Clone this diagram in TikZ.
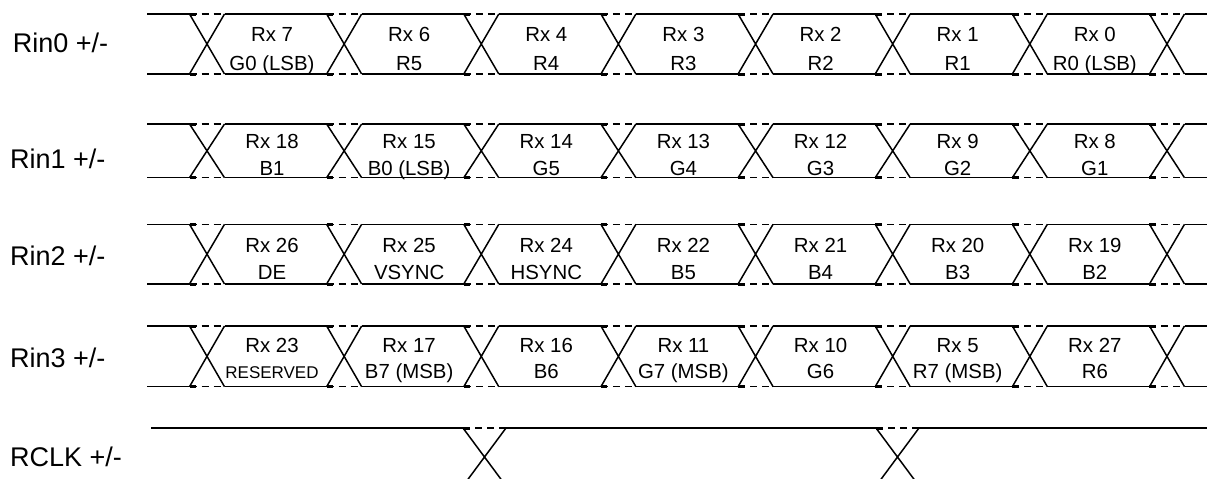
\documentclass[tikz,border=0pt]{standalone}
\usepackage{fontspec}
\setmainfont{Liberation Sans}
\newcommand{\rsvdfont}{\fontsize{17}{20}\selectfont}
\begin{document}
\begin{tikzpicture}[
    x=1pt, y=-1pt,
    wave/.style={draw, line width=1.5pt},
    gapline/.style={draw, line width=1.5pt, dash pattern=on 7pt off 5pt},
    gapmark/.style={draw, line width=3pt},
    signame/.style={font=\fontsize{27}{32}\selectfont, anchor=base west, inner sep=0pt},
    bitname/.style={font=\fontsize{20.4}{24}\selectfont, anchor=base, inner sep=0pt}
]
\useasboundingbox (0,0) rectangle (1207,479);
\clip (0,0) rectangle (1207,479);

% signal names
\node (rin0) [signame] at (12.7,52.5) {Rin0 +/-};
\node (rin1) [signame] at (10,168) {Rin1 +/-};
\node (rin2) [signame] at (10,265) {Rin2 +/-};
\node (rin3) [signame] at (10,367) {Rin3 +/-};
\node (rclk) [signame] at (10,466.5) {RCLK +/-};

% data lanes
\foreach \row/\top/\bot in {0/14/74, 1/124/177.7, 2/224.3/284, 3/326/386.7} {
  \draw[wave] (147,\top) -- (189.5,\top) (147,\bot) -- (189.5,\bot);
  \foreach \k in {0,...,7} {
    \pgfmathsetmacro{\c}{207+137.14*\k}
    \draw[wave] (\c-17.5,\top) -- (\c+17.5,\bot) (\c-17.5,\bot) -- (\c+17.5,\top);
    \draw[gapline] (\c-17.5,\top) -- (\c+17.5,\top) (\c-17.5,\bot) -- (\c+17.5,\bot);
    \draw[gapmark] (\c-17.5,\top) -- (\c-11,\top) (\c-17.5,\bot) -- (\c-11,\bot);
  }
  \foreach \k in {0,...,6} {
    \pgfmathsetmacro{\c}{207+137.14*\k}
    \draw[wave] (\c+17.5,\top) -- (\c+119.64,\top) (\c+17.5,\bot) -- (\c+119.64,\bot);
  }
  \draw[wave] (1184.5,\top) -- (1207,\top) (1184.5,\bot) -- (1207,\bot);
}

% bit names
\foreach \k/\bita/\bitb in {0/Rx 7/G0 (LSB), 1/Rx 6/R5, 2/Rx 4/R4, 3/Rx 3/R3,
    4/Rx 2/R2, 5/Rx 1/R1, 6/Rx 0/R0 (LSB)} {
  \node (bit0\k a) [bitname] at (272+137.14*\k,41.7) {\bita};
  \node (bit0\k b) [bitname] at (272+137.14*\k,70) {\bitb};
}
\foreach \k/\bita/\bitb in {0/Rx 18/B1, 1/Rx 15/B0 (LSB), 2/Rx 14/G5, 3/Rx 13/G4,
    4/Rx 12/G3, 5/Rx 9/G2, 6/Rx 8/G1} {
  \node (bit1\k a) [bitname] at (272+137.14*\k,148.3) {\bita};
  \node (bit1\k b) [bitname] at (272+137.14*\k,175.7) {\bitb};
}
\foreach \k/\bita/\bitb in {0/Rx 26/DE, 1/Rx 25/VSYNC, 2/Rx 24/HSYNC, 3/Rx 22/B5,
    4/Rx 21/B4, 5/Rx 20/B3, 6/Rx 19/B2} {
  \node (bit2\k a) [bitname] at (272+137.14*\k,252) {\bita};
  \node (bit2\k b) [bitname] at (272+137.14*\k,279.5) {\bitb};
}
\foreach \k/\bita/\bitb in {0/Rx 23/{\rsvdfont RESERVED}, 1/Rx 17/B7 (MSB), 2/Rx 16/B6,
    3/Rx 11/G7 (MSB), 4/Rx 10/G6, 5/Rx 5/R7 (MSB), 6/Rx 27/R6} {
  \node (bit3\k a) [bitname] at (272+137.14*\k,352.3) {\bita};
  \node (bit3\k b) [bitname] at (272+137.14*\k,378) {\bitb};
}

% clock lane
\draw[wave] (151,428) -- (463,428) (506,428) -- (876,428) (919,428) -- (1207,428);
\draw[gapline] (463,428) -- (506,428) (876,428) -- (919,428);
\draw[gapmark] (463,428) -- (470,428) (876,428) -- (883,428);
\draw[wave] (463,428) -- (506,486) (506,428) -- (463,486);
\draw[wave] (876,428) -- (919,486) (919,428) -- (876,486);
\end{tikzpicture}
\end{document}
